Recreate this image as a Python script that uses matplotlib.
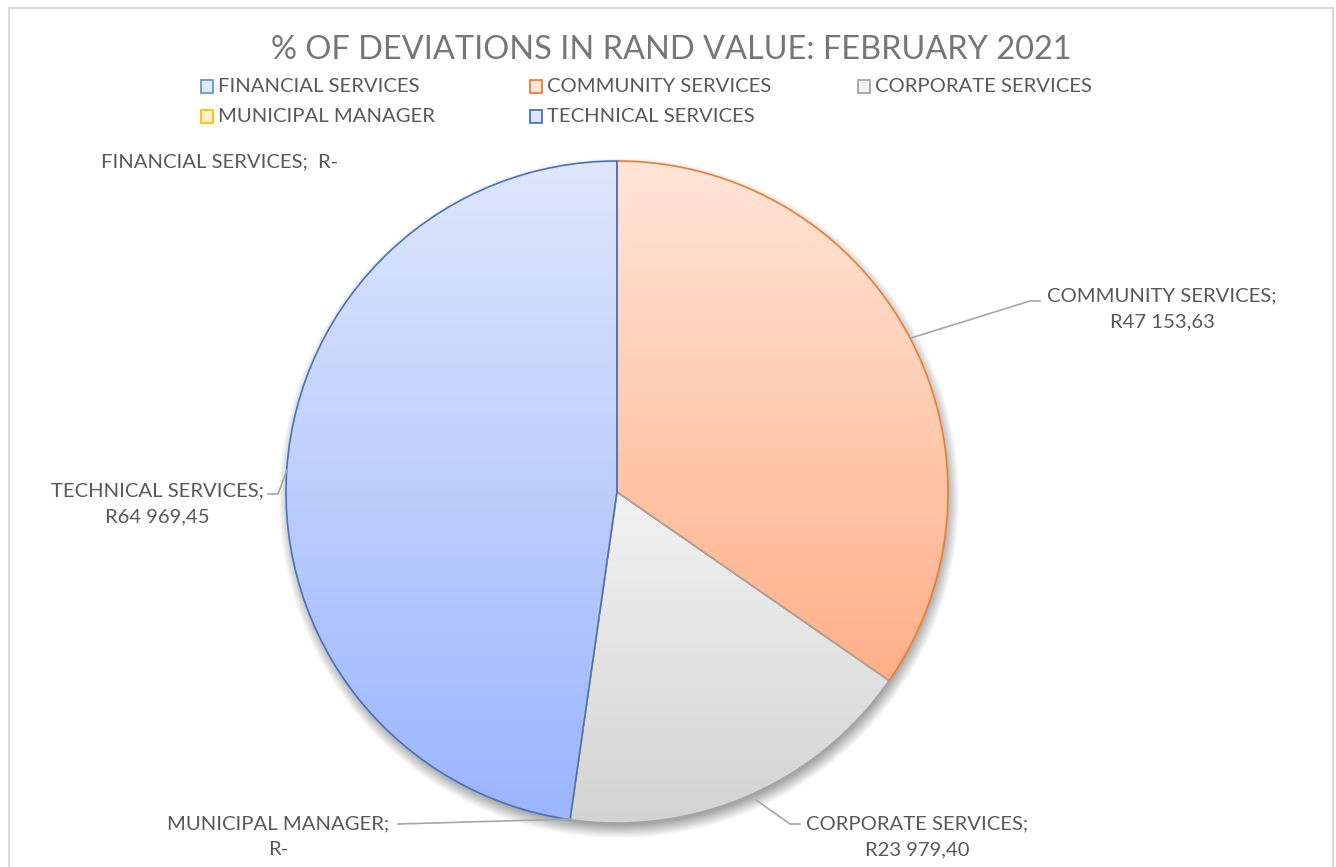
import numpy as np
import matplotlib.pyplot as plt
from matplotlib.patches import Rectangle
from matplotlib.colors import to_rgb

W, H = 1336, 867

departments = ['FINANCIAL SERVICES', 'COMMUNITY SERVICES', 'CORPORATE SERVICES',
               'MUNICIPAL MANAGER', 'TECHNICAL SERVICES']
rand_values = [0.0, 47153.63, 23979.40, 0.0, 64969.45]

edge_colors = ['#5b9bd5', '#ed7d31', '#a5a5a5', '#ffc000', '#4472c4']
top_colors = ['#deebf7', '#ffe5d8', '#f2f2f2', '#fff2cc', '#dfe6fc']
bottom_colors = ['#9dc3e6', '#ffb088', '#d3d3d3', '#ffd966', '#9bb5ff']

TEXT = '#595959'
FONT = 'Lato'
plt.rcParams['font.family'] = [FONT, 'DejaVu Sans']


def rand(v):
    if v == 0:
        return 'R-'
    s = f'{v:,.2f}'
    return 'R' + s.replace(',', ' ').replace('.', ',')


def py(y):
    # positions below are measured from the top edge
    return H - y


fig = plt.figure(figsize=(W / 100, H / 100), dpi=100)
ax = fig.add_axes([0, 0, 1, 1])

cx, cy, R = 617, py(492), 331

# soft drop shadow under the pie
xs = np.arange(cx - R - 30, cx + R + 30)
ys = np.arange(cy - R - 30, cy + R + 30)
gx, gy = np.meshgrid(xs, ys)
d = np.hypot(gx - (cx + 2), gy - (cy - 6))
a = np.clip((R + 10 - d) / 14, 0, 1) * 0.5
shadow = np.zeros(d.shape + (4,))
shadow[..., :3] = 0.3
shadow[..., 3] = a
ax.imshow(shadow, extent=(xs[0], xs[-1], ys[0], ys[-1]), origin='lower',
          zorder=1, interpolation='bilinear')

wedges, _ = ax.pie(rand_values, startangle=90, counterclock=False,
                   center=(cx, cy), radius=R, frame=True,
                   wedgeprops=dict(linewidth=1.2))

t = np.linspace(0, 1, 256)[:, None, None]
for w, v, ec, c0, c1 in zip(wedges, rand_values, edge_colors, top_colors, bottom_colors):
    w.set_facecolor('none')
    w.set_edgecolor(ec)
    w.set_zorder(3)
    if v == 0:
        continue
    grad = np.array(to_rgb(c0)) * (1 - t) + np.array(to_rgb(c1)) * t
    bb = w.get_path().get_extents()
    im = ax.imshow(grad, extent=(bb.x0, bb.x1, bb.y0, bb.y1), origin='upper',
                   aspect='auto', interpolation='bilinear', zorder=2)
    im.set_clip_path(w)

ax.set_xlim(0, W)
ax.set_ylim(0, H)
ax.set_aspect('equal')
ax.axis('off')

# chart area border
ax.add_patch(Rectangle((9, -5), 1324, py(8) + 5, fill=False, ec='#d9d9d9', lw=1.5, zorder=0))

ax.text(671, py(50), '% OF DEVIATIONS IN RAND VALUE: FEBRUARY 2021', ha='center', va='center',
        fontsize=23.4, color='#767676')

# legend
legend_pos = [(207, 86), (536, 86), (864, 86), (207, 116), (536, 116)]
for (lx, ly), name, ec, c0 in zip(legend_pos, departments, edge_colors, top_colors):
    ax.add_patch(Rectangle((lx - 6, py(ly) - 6.5), 12, 13, fc=c0, ec=ec, lw=1.3))
    ax.text(lx + 11, py(ly), name, ha='left', va='center', fontsize=14.6, color=TEXT)

# data labels with leader lines
lead = dict(color='#a6a6a6', lw=1.2, zorder=4)
ax.plot([911, 1030, 1040], [py(338), py(301), py(301)], **lead)
ax.plot([287, 278, 268], [py(470), py(494), py(494)], **lead)
ax.plot([756, 790, 800], [py(800), py(824), py(824)], **lead)
ax.plot([572, 398], [py(819), py(824)], **lead)

labels = [
    (220, 162, departments[0] + ';  ' + rand(rand_values[0])),
    (1162, 309, departments[1] + ';\n' + rand(rand_values[1])),
    (917, 837, departments[2] + ';\n' + rand(rand_values[2])),
    (278, 837, departments[3] + ';\n' + rand(rand_values[3])),
    (157, 504, departments[4] + ';\n' + rand(rand_values[4])),
]
for lx, ly, s in labels:
    ax.text(lx, py(ly), s, ha='center', va='center', multialignment='center',
            fontsize=14.6, color=TEXT, linespacing=1.6)

fig.savefig('out.png', dpi=100)
